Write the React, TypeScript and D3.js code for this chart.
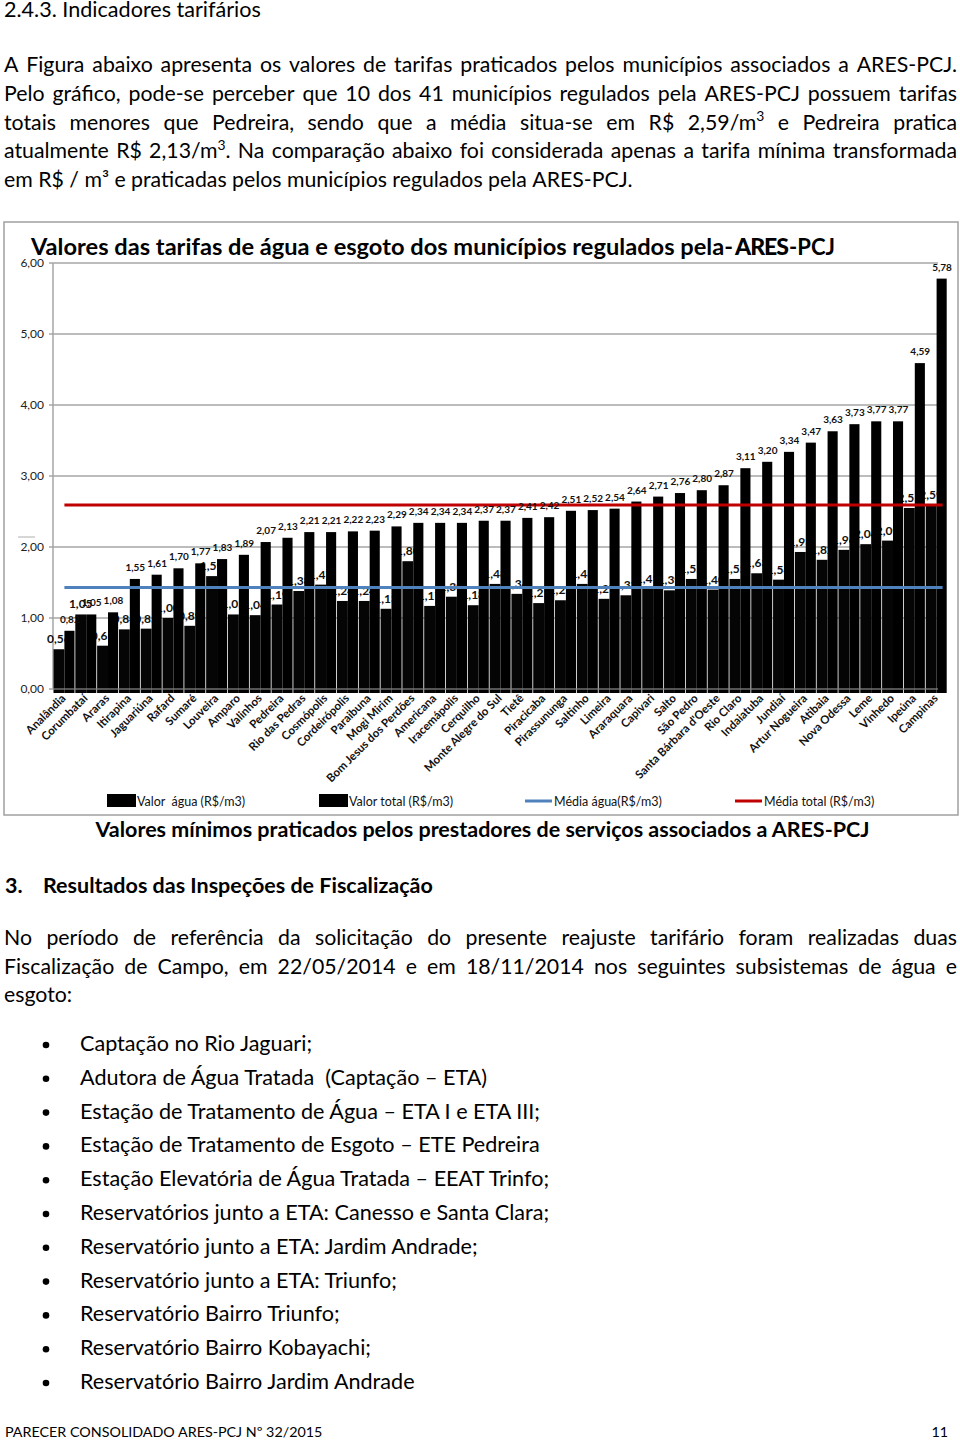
import React, { useMemo } from "react";
import * as d3 from "d3";

const municipios = [
  "Analândia", "Corumbataí", "Araras", "Itirapina", "Jaguariúna", "Rafard", "Sumaré", "Louveira", "Amparo", "Valinhos",
  "Pedreira", "Rio das Pedras", "Cosmópolis", "Cordeirópolis", "Paraibuna", "Mogi Mirim", "Bom Jesus dos Perdões", "Americana", "Iracemápolis", "Cerquilho",
  "Monte Alegre do Sul", "Tietê", "Piracicaba", "Pirassununga", "Saltinho", "Limeira", "Araraquara", "Capivari", "Salto", "São Pedro",
  "Santa Bárbara d'Oeste", "Rio Claro", "Indaiatuba", "Jundiaí", "Artur Nogueira", "Atibaia", "Nova Odessa", "Leme", "Vinhedo", "Ipeúna", "Campinas",
];

const valorAgua = [
  0.56, 1.05, 0.61, 0.84, 0.85, 1.0, 0.89, 1.59, 1.05, 1.04,
  1.19, 1.38, 1.47, 1.24, 1.24, 1.13, 1.8, 1.17, 1.3, 1.18,
  1.48, 1.34, 1.21, 1.25, 1.48, 1.27, 1.32, 1.41, 1.39, 1.55,
  1.4, 1.55, 1.63, 1.54, 1.93, 1.82, 1.96, 2.04, 2.09, 2.55, 2.59,
];

const valorTotal = [
  0.82, 1.05, 1.08, 1.55, 1.61, 1.7, 1.77, 1.83, 1.89, 2.07,
  2.13, 2.21, 2.21, 2.22, 2.23, 2.29, 2.34, 2.34, 2.34, 2.37,
  2.37, 2.41, 2.42, 2.51, 2.52, 2.54, 2.64, 2.71, 2.76, 2.8,
  2.87, 3.11, 3.2, 3.34, 3.47, 3.63, 3.73, 3.77, 3.77, 4.59, 5.78,
];

const mediaAgua = 1.43;
const mediaTotal = 2.59;
const yTicks = [0, 1, 2, 3, 4, 5, 6];

const legendItems = [
  { label: "Valor  água (R$/m3)", kind: "bar", color: "#000" },
  { label: "Valor total (R$/m3)", kind: "bar", color: "#000" },
  { label: "Média água(R$/m3)", kind: "line", color: "#4f81bd" },
  { label: "Média total (R$/m3)", kind: "line", color: "#c00000" },
];

const para1 = [
  "A Figura abaixo apresenta os valores de tarifas praticados pelos municípios associados a ARES-PCJ.",
  "Pelo gráfico, pode-se perceber que 10 dos 41 municípios regulados pela ARES-PCJ possuem tarifas",
  "totais menores que Pedreira, sendo que a média situa-se em R$ 2,59/m^3 e Pedreira pratica",
  "atualmente R$ 2,13/m^3. Na comparação abaixo foi considerada apenas a tarifa mínima transformada",
  "em R$ / m³ e praticadas pelos municípios regulados pela ARES-PCJ.",
];

const para2 = [
  "No período de referência da solicitação do presente reajuste tarifário foram realizadas duas",
  "Fiscalização de Campo, em 22/05/2014 e em 18/11/2014 nos seguintes subsistemas de água e",
  "esgoto:",
];

const bullets = [
  "Captação no Rio Jaguari;",
  "Adutora de Água Tratada  (Captação – ETA)",
  "Estação de Tratamento de Água – ETA I e ETA III;",
  "Estação de Tratamento de Esgoto – ETE Pedreira",
  "Estação Elevatória de Água Tratada – EEAT Trinfo;",
  "Reservatórios junto a ETA: Canesso e Santa Clara;",
  "Reservatório junto a ETA: Jardim Andrade;",
  "Reservatório junto a ETA: Triunfo;",
  "Reservatório Bairro Triunfo;",
  "Reservatório Bairro Kobayachi;",
  "Reservatório Bairro Jardim Andrade",
];

const FONT = "Lato, 'Noto Sans', sans-serif";
const fmt = (v: number) => d3.format(".2f")(v).replace(".", ",");

type Part = { t: string; sup: boolean };
function parseWord(w: string): Part[] {
  const parts: Part[] = [];
  let buf = "";
  for (let i = 0; i < w.length; i++) {
    if (w[i] === "^" && i + 1 < w.length) {
      if (buf) parts.push({ t: buf, sup: false });
      buf = "";
      parts.push({ t: w[i + 1], sup: true });
      i++;
    } else buf += w[i];
  }
  if (buf) parts.push({ t: buf, sup: false });
  return parts;
}

export default function App() {
  const meas = useMemo(() => {
    const c = document.createElement("canvas").getContext("2d")!;
    return (t: string, size: number, weight: number | string = 400) => {
      c.font = `${weight} ${size}px Lato`;
      return c.measureText(t).width;
    };
  }, []);

  const bodySize = (18 * 629) / meas(para1[4], 18);
  const headSize = (18 * 257) / meas("2.4.3. Indicadores tarifários", 18);
  const secSize = (18 * 390) / meas("Resultados das Inspeções de Fiscalização", 18, 700);
  const capText = "Valores mínimos praticados pelos prestadores de serviços associados a ARES-PCJ";
  const capSize = (18 * 775) / meas(capText, 18, 700);
  const bulletSize = (18 * 336) / meas(bullets[10], 18);
  const footText = "PARECER CONSOLIDADO ARES-PCJ Nº 32/2015";
  const footSize = (14 * 318) / meas(footText, 14);

  const wordWidth = (w: string, size: number) =>
    parseWord(w).reduce((s, p) => s + (p.sup ? meas(p.t, size * 0.65) : meas(p.t, size)), 0);

  const renderLine = (line: string, y: number, size: number, justify: boolean, key: string, x0 = 4, x1 = 957) => {
    const words = line.split(/ +/);
    const widths = words.map((w) => wordWidth(w, size));
    const total = d3.sum(widths);
    const space = meas(" ", size);
    const gap = justify && words.length > 1 ? (x1 - x0 - total) / (words.length - 1) : space;
    let x = x0;
    return (
      <g key={key}>
        {words.map((w, i) => {
          const xi = x;
          x += widths[i] + gap;
          const parts = parseWord(w);
          return (
            <text key={i} x={xi} y={y} fontSize={size} fontFamily={FONT} fill="#000">
              {parts.map((p, j) =>
                p.sup ? (
                  <tspan key={j} fontSize={size * 0.65} dy={-size * 0.4}>{p.t}</tspan>
                ) : (
                  <tspan key={j} dy={j > 0 && parts[j - 1].sup ? size * 0.4 : 0}>{p.t}</tspan>
                )
              )}
            </text>
          );
        })}
      </g>
    );
  };

  // chart scales
  const x = d3.scaleBand<string>().domain(municipios).range([53.5, 947.5]).padding(0);
  const sub = d3.scaleBand<string>().domain(["agua", "total"]).range([0, x.bandwidth()]).padding(0);
  const y = d3.scaleLinear().domain([0, 6]).range([689, 263]);
  const bw = sub.bandwidth();
  const gridX1 = 53;
  const gridX2 = 938;
  const lineX1 = (x(municipios[0]) ?? 0) + bw;
  const lineX2 = (x(municipios[municipios.length - 1]) ?? 0) + bw * 1.55;

  const legendX = [107, 319, 525, 735];

  return (
    <svg width={960} height={1442} style={{ position: "absolute", left: 0, top: 0, background: "#fff" }}>
      <rect x={0} y={0} width={960} height={1442} fill="#fff" />
      <text x={4} y={17} fontSize={headSize} fontFamily={FONT} fill="#000">2.4.3. Indicadores tarifários</text>

      {para1.map((l, i) => renderLine(l, 72 + i * 28.8, bodySize, i < para1.length - 1, "p1" + i))}

      {/* chart frame */}
      <rect x={4} y={222} width={954} height={593} fill="#fff" stroke="#a0a0a0" strokeWidth={1.5} />
      <text y={255} fontFamily={FONT} fontWeight={700} fill="#000">
        <tspan x={31} fontSize={23} textLength={702} lengthAdjust="spacingAndGlyphs">Valores das tarifas de água e esgoto dos municípios regulados pela-</tspan>
      </text>
      <text x={735} y={255} fontFamily={FONT} fontWeight={900} fontSize={23} fill="#000" textLength={53} lengthAdjust="spacingAndGlyphs" letterSpacing={-1}>ARES</text>
      <text x={789} y={255} fontFamily={FONT} fontWeight={700} fontSize={23} fill="#000" textLength={46} lengthAdjust="spacingAndGlyphs">-PCJ</text>

      {/* grid */}
      {yTicks.map((t) => (
        <g key={t}>
          <line x1={gridX1} x2={gridX2} y1={y(t)} y2={y(t)} stroke="#a6a6a6" strokeWidth={1.5} />
          <line x1={49} x2={gridX1} y1={y(t)} y2={y(t)} stroke="#a6a6a6" strokeWidth={1.5} />
          <text x={44} y={y(t)} dy="0.35em" textAnchor="end" fontSize={12} fontFamily={FONT} fill="#222">{fmt(t)}</text>
        </g>
      ))}
      <line x1={gridX1} x2={gridX1} y1={y(6)} y2={y(0)} stroke="#a6a6a6" strokeWidth={1.5} />
      <line x1={18} x2={35} y1={537} y2={537} stroke="#999" strokeWidth={0.8} />

      {/* water bars */}
      {municipios.map((m, i) => (
        <rect key={"wa" + m} x={(x(m) ?? 0) + (sub("agua") ?? 0)} y={y(valorAgua[i])} width={bw} height={y(0) - y(valorAgua[i]) + 4} fill="#050505" />
      ))}
      {municipios.map((m, i) => (
        <text key={"wl" + m} x={(x(m) ?? 0) + (sub("agua") ?? 0) + bw / 2} y={y(valorAgua[i]) - 6} textAnchor="middle" fontSize={12} fontWeight={700} fontFamily={FONT} fill="#111">{fmt(valorAgua[i])}</text>
      ))}
      {/* total bars */}
      {municipios.map((m, i) => (
        <rect key={"tb" + m} x={(x(m) ?? 0) + (sub("total") ?? 0)} y={y(valorTotal[i])} width={bw - 0.8} height={y(0) - y(valorTotal[i]) + 4} fill="#000" />
      ))}
      <line x1={gridX1} x2={gridX2} y1={y(0)} y2={y(0)} stroke="#a6a6a6" strokeWidth={1} />

      {/* averages */}
      <line x1={lineX1} x2={lineX2} y1={y(mediaTotal)} y2={y(mediaTotal)} stroke="#c00000" strokeWidth={3} />
      <line x1={lineX1} x2={lineX2} y1={y(mediaAgua)} y2={y(mediaAgua)} stroke="#4f81bd" strokeWidth={3} />

      {municipios.map((m, i) => (
        <text key={"tl" + m} x={(x(m) ?? 0) + (sub("total") ?? 0) + bw / 2} y={y(valorTotal[i]) - 8} textAnchor="middle" fontSize={10} fontWeight={700} fontFamily={FONT} fill="#111">{fmt(valorTotal[i])}</text>
      ))}

      {/* x labels */}
      {municipios.map((m) => {
        const cx = (x(m) ?? 0) + x.bandwidth() / 2 + 2;
        return (
          <text key={"xl" + m} transform={`translate(${cx},699) rotate(-45)`} textAnchor="end" fontSize={11.5} fontWeight={700} fontFamily={FONT} fill="#111">{m}</text>
        );
      })}

      {/* legend */}
      {legendItems.map((it, i) => (
        <g key={it.label}>
          {it.kind === "bar" ? (
            <rect x={legendX[i]} y={794} width={29} height={13} fill={it.color} />
          ) : (
            <line x1={legendX[i]} x2={legendX[i] + 27} y1={801} y2={801} stroke={it.color} strokeWidth={3} />
          )}
          <text x={legendX[i] + (it.kind === "bar" ? 30 : 29)} y={805.5} fontSize={12.5} fontFamily={FONT} fill="#111" style={{ whiteSpace: "pre" }}>{it.label}</text>
        </g>
      ))}

      <text x={482.5} y={837} textAnchor="middle" fontSize={capSize} fontWeight={700} fontFamily={FONT} fill="#000">{capText}</text>

      <text x={5} y={893} fontSize={secSize} fontWeight={700} fontFamily={FONT} fill="#000">3.</text>
      <text x={43} y={893} fontSize={secSize} fontWeight={700} fontFamily={FONT} fill="#000">Resultados das Inspeções de Fiscalização</text>

      {para2.map((l, i) => renderLine(l, 945 + i * 28.6, bodySize, i < para2.length - 1, "p2" + i))}

      {bullets.map((b, i) => {
        const by = 1051 + i * 33.8;
        return (
          <g key={"b" + i}>
            <circle cx={46} cy={by - 6} r={3.3} fill="#000" />
            <text x={80} y={by} fontSize={bulletSize} fontFamily={FONT} fill="#000" style={{ whiteSpace: "pre" }}>{b}</text>
          </g>
        );
      })}

      <text x={5} y={1437} fontSize={footSize} fontFamily={FONT} fill="#000">{footText}</text>
      <text x={948} y={1437} textAnchor="end" fontSize={footSize} fontFamily={FONT} fill="#000">11</text>
    </svg>
  );
}
